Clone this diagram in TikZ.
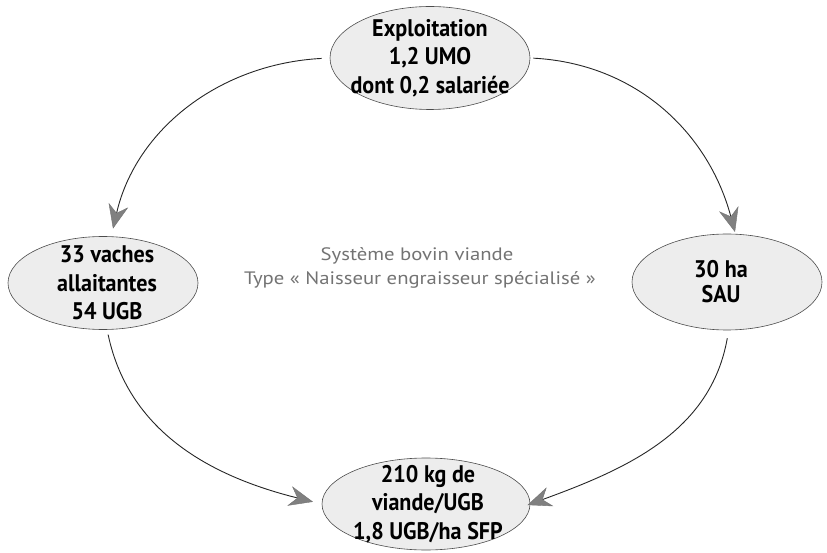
\documentclass[tikz,border=0pt]{standalone}
\usepackage{fontspec}
\newfontfamily\nodefont{PT Sans}[FakeStretch=0.92]
\newfontfamily\midfont{PT Sans}[FakeStretch=1.15]
\usetikzlibrary{shapes.geometric,arrows.meta}
\begin{document}
\begin{tikzpicture}[x=1pt,y=1pt,
  blob/.style={ellipse, draw=black!70, line width=0.6pt, fill=black!7, inner sep=0pt},
  lbl/.style={align=center, font=\nodefont\bfseries\fontsize{24}{28.5}\selectfont, text=black},
  midtxt/.style={anchor=base, font=\midfont\fontsize{18}{20}\selectfont, text=black!55},
  flow/.style={line width=0.9pt, draw=black!85,
    -{Stealth[length=24pt, width=20pt, inset=8pt, color=black!55, fill=black!50, line width=0.4pt]}}
]
\useasboundingbox (0,0) rectangle (827,552);
% ellipses
\node[blob, minimum width=200pt, minimum height=103pt] (top) at (430,494) {};
\node[blob, minimum width=190pt, minimum height=93pt] (left) at (103,269) {};
\node[blob, minimum width=190pt, minimum height=96pt] (right) at (727,270) {};
\node[blob, minimum width=208pt, minimum height=92pt] (bottom) at (426,48) {};
% labels
\node[lbl] (topt) at (top.center) {Exploitation\\1,2 UMO\\dont 0,2 salariée};
\node[lbl] (leftt) at ([xshift=4pt]left.center) {33 vaches\\allaitantes\\54 UGB};
\node[lbl, font=\nodefont\bfseries\fontsize{24}{25}\selectfont] (rightt) at ([xshift=-6pt]right.center) {30 ha\\SAU};
\node[lbl] (bottomt) at ([xshift=2pt]bottom.center) {210 kg de\\viande/UGB\\1,8 UGB/ha SFP};
% central text
\node[midtxt] (m1) at (417,291) {Système bovin viande};
\node[midtxt] (m2) at (420,267) {Type « Naisseur engraisseur spécialisé »};
% connectors
\draw[flow, shorten <=8pt, shorten >=8pt] (top.west) to[out=183, in=77] (left.80);
\draw[flow, shorten <=3pt, shorten >=2pt] (top.east) to[out=-3, in=105] (right.80);
\draw[flow, shorten <=5pt, shorten >=9pt] (left.-85) to[out=-78, in=166] (bottom.west);
\draw[flow, shorten <=8pt, shorten >=-3pt] (right.-88) to[out=-100, in=20] (bottom.east);
\end{tikzpicture}
\end{document}
